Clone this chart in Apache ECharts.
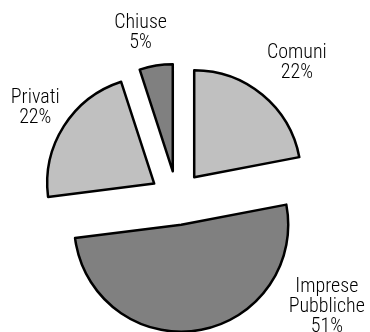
<!DOCTYPE html>
<html>
<head>
<meta charset="utf-8">
<script src="https://cdn.jsdelivr.net/npm/echarts@6/dist/echarts.min.js"></script>
<style>
  html, body { margin: 0; padding: 0; background: #fff; }
  #chart { width: 370px; height: 332px; }
</style>
</head>
<body>
<div id="chart"></div>
<script>
// Slice names, shares (percent) and fills, clockwise from 12 o'clock
const categories = ['Comuni', 'Imprese Pubbliche', 'Privati', 'Chiuse'];
const shares = [22, 51, 22, 5];
const sliceColors = ['#c0c0c0', '#808080', '#c0c0c0', '#808080'];

// Pie geometry
const CX = 177, CY = 198, RADIUS = 107, EXPLODE = 27;
// Label placement around the pie: turn from the slice's mid angle (deg) and distance
const LABEL_TURN = [1.6, -45.5, 0.6, -3.3];
const LABEL_DIST = [182, 184, 169, 171];
const LABEL_DROP = 2;

const total = shares.reduce((a, b) => a + b, 0);

// Mid angle of each slice in degrees, clockwise from the top
function midAngle(i) {
  let before = 0;
  for (let k = 0; k < i; k++) before += shares[k];
  return (before + shares[i] / 2) / total * 360;
}

const chart = echarts.init(document.getElementById('chart'), null, { renderer: 'canvas' });

const common = {
  type: 'pie',
  center: [CX, CY],
  radius: [0, RADIUS],
  startAngle: 90,
  clockwise: true,
  avoidLabelOverlap: false,
  emphasis: { disabled: true }
};

chart.setOption({
  animation: false,
  backgroundColor: '#ffffff',
  series: [
    // exploded slices
    Object.assign({}, common, {
      selectedMode: 'multiple',
      selectedOffset: EXPLODE,
      itemStyle: { borderColor: '#000', borderWidth: 2.5 },
      select: { itemStyle: { borderColor: '#000', borderWidth: 2.5 } },
      label: { show: false },
      labelLine: { show: false },
      data: categories.map((name, i) => ({
        name: name,
        value: shares[i],
        selected: true,
        itemStyle: { color: sliceColors[i] },
        select: { itemStyle: { color: sliceColors[i] } }
      }))
    }),
    // category / percent labels
    Object.assign({}, common, {
      silent: true,
      itemStyle: { color: 'rgba(0,0,0,0)', borderWidth: 0 },
      label: {
        show: true,
        position: 'outside',
        fontFamily: '"Roboto Condensed", "Liberation Sans", Arial, sans-serif',
        fontWeight: 300,
        fontSize: 20,
        lineHeight: 20,
        color: '#000',
        formatter: p => p.name.replace(' ', '\n') + '\n' + p.value + '%'
      },
      labelLine: { show: false },
      labelLayout: function (p) {
        const i = p.dataIndex;
        const rad = (midAngle(i) + LABEL_TURN[i]) * Math.PI / 180;
        const r = LABEL_DIST[i];
        return {
          x: CX + r * Math.sin(rad),
          y: CY - r * Math.cos(rad) + LABEL_DROP,
          align: 'center',
          verticalAlign: 'middle'
        };
      },
      data: categories.map((name, i) => ({ name: name, value: shares[i] }))
    })
  ]
});
</script>
</body>
</html>
